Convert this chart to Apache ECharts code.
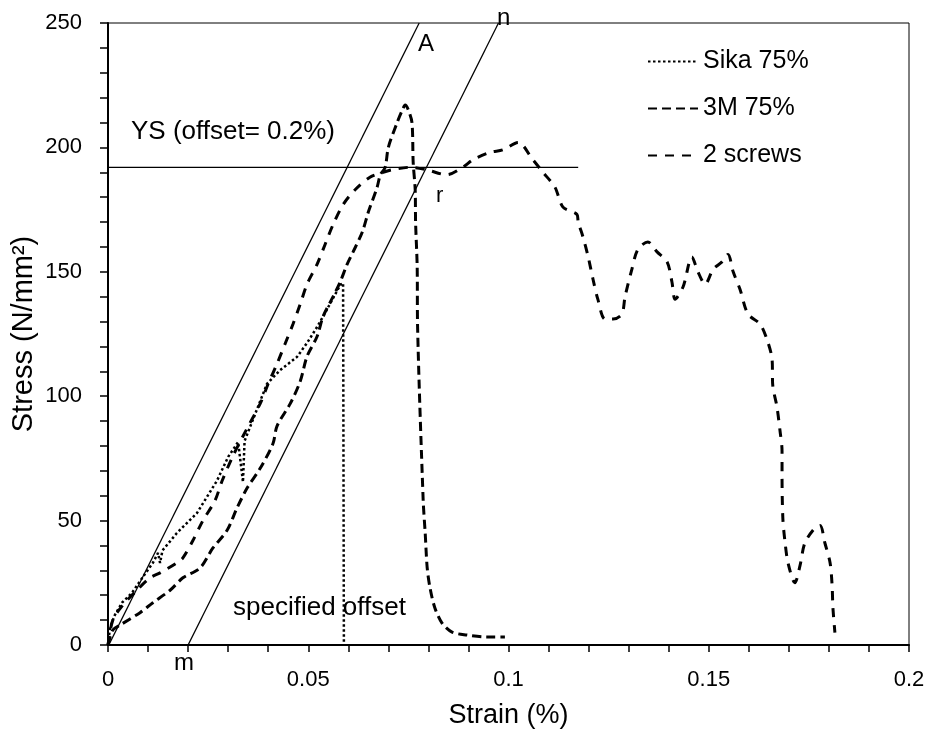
<!DOCTYPE html>
<html>
<head>
<meta charset="utf-8">
<script src="https://cdn.jsdelivr.net/npm/echarts@6/dist/echarts.min.js"></script>
<style>html,body{margin:0;padding:0;background:#fff}#c{width:930px;height:731px}</style>
</head>
<body>
<div id="c"></div>
<script>
// ---- data (strain %, stress N/mm2) ----
const seriesNames = ['Sika 75%', '3M 75%', '2 screws'];

const sika75 = [
  [0,0],[0.0005,7],[0.0017,12],[0.0035,17],[0.006,21],[0.009,28],[0.0112,33],[0.0125,37],
  [0.013,33],[0.0136,38],[0.0172,45],[0.0222,53],[0.0272,66],[0.030,75.6],[0.0325,81.6],
  [0.0337,65.5],[0.0341,82],[0.0397,105],[0.043,110.5],[0.0472,115.8],[0.0497,121.4],
  [0.0522,127.8],[0.0537,132],[0.058,144.7],[0.0587,145.5],[0.0589,0]
];

const m3_75 = [
  [0,0],[0.0012,6],[0.003,8],[0.008,13],[0.0112,17],[0.0155,22],[0.0187,27],[0.023,31],
  [0.0262,39],[0.0297,46],[0.0322,55],[0.0347,63],[0.038,71],[0.0412,81],[0.0422,88],
  [0.0455,97],[0.048,106],[0.0497,116],[0.0522,124],[0.0537,132],[0.0562,140],[0.058,146],
  [0.0597,153],[0.0612,158],[0.0635,166],[0.065,174],[0.0672,184],[0.068,189],[0.0692,192],
  [0.070,200],[0.0722,210],[0.0735,215],[0.0742,217],[0.075,215],[0.0759,210],[0.0762,194],
  [0.0767,183],[0.0768,170],[0.0772,152],[0.0773,128],[0.0787,58],[0.0792,45],[0.0797,31],
  [0.0804,23],[0.0816,15],[0.0834,8.8],[0.0859,5.2],[0.0896,4],[0.0946,3.2],[0.0991,3.2]
];

const screws2 = [
  [0,0],[0.0012,10],[0.0037,16],[0.0072,22],[0.0105,27],[0.013,29],[0.0172,33],[0.0187,35],
  [0.0212,42],[0.0237,50],[0.0267,58],[0.0285,66],[0.0312,76],[0.0347,87],[0.038,97],
  [0.040,105],[0.0422,113],[0.0442,121],[0.0462,129],[0.048,137],[0.0497,145],[0.0522,153],
  [0.0542,161],[0.0562,169],[0.0587,177],[0.0617,183],[0.0654,188],[0.0687,190],[0.0709,191],
  [0.0754,192],[0.0796,191],[0.0846,189],[0.0886,192],[0.0911,195],[0.0954,198],[0.0986,199],
  [0.1024,202],[0.1061,195],[0.1086,190],[0.1116,184],[0.1136,176],[0.1171,173],[0.1174,170],
  [0.1186,164],[0.1199,156],[0.1211,147],[0.1223,139],[0.1241,131],[0.1261,131],[0.1283,133],
  [0.1291,140],[0.1308,151],[0.1323,159],[0.1348,162],[0.1371,158],[0.1396,154],[0.1408,146],
  [0.1416,139],[0.1436,144],[0.1458,156],[0.1473,150],[0.1491,145],[0.1511,151],[0.1533,154],
  [0.1548,157],[0.1561,150],[0.1578,143],[0.1598,133],[0.1628,129],[0.1645,123],[0.1658,115],
  [0.166,104],[0.167,96],[0.1678,86],[0.1683,78],[0.1683,68],[0.1685,51],[0.169,42],
  [0.1698,33],[0.1715,25],[0.1728,32],[0.174,41],[0.1765,47],[0.1778,48],[0.179,41],
  [0.1803,33],[0.1808,24],[0.181,15],[0.1815,5]
];

// construction lines
const lineA = [[0.0002,0],[0.0777,250]];
const lineN = [[0.0200,0],[0.0975,250]];
const ysLine = [[0,192],[0.1174,192]];

const xTicks = [0, 0.05, 0.1, 0.15, 0.2];
const yTicks = [0, 50, 100, 150, 200, 250];

const FONT = 'Liberation Sans, Arial, sans-serif';
const chart = echarts.init(document.getElementById('c'), null, {renderer: 'canvas'});

function solid(name, data) {
  return {name: name, type: 'line', data: data, showSymbol: false, symbol: 'none', silent: true,
    lineStyle: {color: '#000', width: 1.3, type: 'solid'}, z: 2};
}

chart.setOption({
  animation: false,
  backgroundColor: '#fff',
  grid: {left: 108, right: 21, top: 23, bottom: 86, show: true, borderColor: '#000', borderWidth: 1,
    containLabel: false, outerBoundsMode: 'none'},
  legend: {
    data: seriesNames,
    orient: 'vertical', left: 642, top: 44,
    itemWidth: 50, itemHeight: 14, itemGap: 22,
    itemStyle: {opacity: 0},
    textStyle: {fontFamily: FONT, fontSize: 25, color: '#000'}
  },
  xAxis: {
    type: 'value', min: xTicks[0], max: xTicks[xTicks.length - 1], interval: 0.05,
    name: 'Strain (%)', nameLocation: 'middle', nameGap: 57, nameMoveOverlap: false,
    nameTextStyle: {fontFamily: FONT, fontSize: 27, color: '#000'},
    axisLine: {show: true, onZero: false, lineStyle: {color: '#000', width: 2}},
    axisTick: {show: true, inside: false, length: 7, lineStyle: {color: '#000', width: 1.5}},
    minorTick: {show: true, splitNumber: 5, length: 7, lineStyle: {color: '#000', width: 1.5}},
    splitLine: {show: false},
    axisLabel: {fontFamily: FONT, fontSize: 22, color: '#000', margin: 24,
      formatter: function (v) { return String(Math.round(v * 100) / 100); }}
  },
  yAxis: {
    type: 'value', min: yTicks[0], max: yTicks[yTicks.length - 1], interval: 50,
    name: 'Stress (N/mm²)', nameLocation: 'middle', nameGap: 70, nameMoveOverlap: false,
    nameTextStyle: {fontFamily: FONT, fontSize: 29, color: '#000'},
    axisLine: {show: true, onZero: false, lineStyle: {color: '#000', width: 2}},
    axisTick: {show: true, inside: false, length: 8, lineStyle: {color: '#000', width: 1.5}},
    minorTick: {show: true, splitNumber: 5, length: 8, lineStyle: {color: '#000', width: 1.5}},
    splitLine: {show: false},
    axisLabel: {fontFamily: FONT, fontSize: 22, color: '#000', margin: 26}
  },
  series: [
    {name: seriesNames[0], type: 'line', data: sika75, showSymbol: false, symbol: 'none',
      lineStyle: {color: '#000', width: 2.5, type: [2.5, 2.5]}, itemStyle: {color: '#000'}, z: 3},
    {name: seriesNames[1], type: 'line', data: m3_75, showSymbol: false, symbol: 'none', smooth: 0.3,
      lineStyle: {color: '#000', width: 3, type: [9, 5]}, itemStyle: {color: '#000'}, z: 3},
    {name: seriesNames[2], type: 'line', data: screws2, showSymbol: false, symbol: 'none', smooth: 0.3,
      lineStyle: {color: '#000', width: 3, type: [9, 8]}, itemStyle: {color: '#000'}, z: 3},
    solid('lineA', lineA),
    solid('lineN', lineN),
    solid('ys', ysLine)
  ],
  graphic: [
    {type: 'text', left: 131, top: 119, style: {text: 'YS (offset= 0.2%)', font: '26px ' + FONT, fill: '#000'}},
    {type: 'text', left: 233, top: 595, style: {text: 'specified offset', font: '26px ' + FONT, fill: '#000'}},
    {type: 'text', left: 174, top: 651, style: {text: 'm', font: '24px ' + FONT, fill: '#000'}},
    {type: 'text', left: 436, top: 185, style: {text: 'r', font: '22px ' + FONT, fill: '#000'}},
    {type: 'text', left: 418, top: 32, style: {text: 'A', font: '24px ' + FONT, fill: '#000'}},
    {type: 'text', left: 497, top: 6, style: {text: 'n', font: '24px ' + FONT, fill: '#000'}}
  ]
});
</script>
</body>
</html>
